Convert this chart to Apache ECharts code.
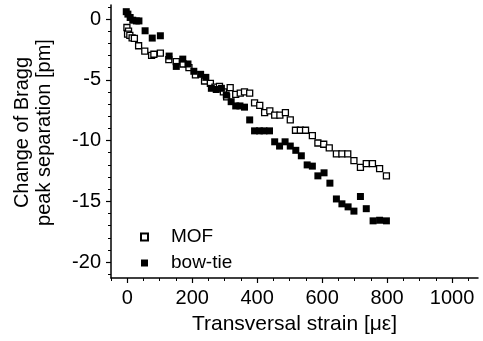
<!DOCTYPE html>
<html>
<head>
<meta charset="utf-8">
<script src="https://cdn.jsdelivr.net/npm/echarts@6/dist/echarts.min.js"></script>
<style>
  html, body { margin: 0; padding: 0; background: #fff; }
  #chart { width: 483px; height: 341px; }
</style>
</head>
<body>
<div id="chart"></div>
<script>
// strain in microstrain, shift in pm
const mofStrain = [-1, 4, 1, 8, 15, 22, 35, 54, 75, 82, 102, 128, 151, 172, 190, 210, 238, 256, 270, 284,
  296, 306, 317, 334, 348, 361, 377, 392, 408, 423, 439, 454, 470, 487, 502, 518, 533, 549, 570, 587,
  605, 622, 644, 661, 679, 698, 718, 736, 755, 777, 798];
const mofShift = [-0.7, -1.0, -1.25, -1.35, -1.55, -1.6, -2.2, -2.65, -3.0, -2.9, -2.8, -3.35, -3.5, -3.7, -4.0, -4.6, -5.1, -5.3, -5.6, -5.55,
  -6.0, -6.4, -5.65, -6.2, -6.1, -6.0, -6.1, -6.9, -7.1, -7.7, -7.55, -7.9, -7.9, -7.7, -8.3, -9.15, -9.15, -9.15, -9.6, -10.2,
  -10.3, -10.6, -11.1, -11.1, -11.1, -11.65, -12.2, -11.9, -11.9, -12.3, -12.9];

const bowStrain = [-3, 2, 9, 17, 28, 36, 55, 77, 102, 129, 151, 171, 187, 205, 226, 242, 259, 274, 290, 305,
  320, 334, 347, 361, 377, 392, 407, 421, 438, 454, 469, 486, 502, 519, 536, 554, 570, 587, 606, 624,
  644, 661, 680, 698, 718, 736, 757, 777, 798];
const bowShift = [0.6, 0.4, 0.12, -0.1, -0.16, -0.16, -0.97, -1.57, -1.38, -3.05, -3.9, -3.3, -3.7, -4.3, -4.55, -4.8, -5.7, -5.8, -5.7, -6.25,
  -6.8, -7.15, -7.15, -7.25, -8.3, -9.2, -9.2, -9.2, -9.2, -10.1, -10.45, -10.1, -10.45, -10.8, -11.25, -12.0, -12.1, -12.9, -12.65, -13.5,
  -14.8, -15.2, -15.45, -15.8, -14.6, -15.6, -16.6, -16.55, -16.6];

const xMajor = [0, 200, 400, 600, 800, 1000];
const xMinor = [-50, 0, 50, 100, 150, 200, 250, 300, 350, 400, 450, 500, 550, 600, 650, 700, 750, 800, 850, 900, 950, 1000, 1050];
const yMajor = [-20, -15, -10, -5, 0];
const yMinor = [-21, -20, -19, -18, -17, -16, -15, -14, -13, -12, -11, -10, -9, -8, -7, -6, -5, -4, -3, -2, -1, 0, 1];

const X_MIN = -50, X_MAX = 1080;
const Y_MIN = -21.3, Y_MAX = 1.15;
const FONT = "'Liberation Sans', Arial, sans-serif";

const pair = (xs, ys) => xs.map((x, i) => [x, ys[i]]);

const chart = echarts.init(document.getElementById("chart"), null, { renderer: "canvas" });

const mainLine = { show: true, onZero: false, lineStyle: { color: "#000", width: 1.5 } };
const hiddenLine = { show: false, onZero: false };

chart.setOption({
  animation: false,
  textStyle: { fontFamily: FONT },
  grid: { left: 111, right: 5, top: 5, bottom: 63 },
  legend: {
    orient: "vertical",
    left: 135,
    top: 222,
    itemWidth: 7,
    itemHeight: 7,
    itemGap: 6,
    textStyle: { fontSize: 19, lineHeight: 20, color: "#000", fontFamily: FONT, padding: [0, 0, 0, 18] },
    data: ["MOF", "bow-tie"]
  },
  xAxis: [
    {
      type: "value", min: X_MIN, max: X_MAX,
      axisLine: mainLine,
      axisTick: { show: true, inside: false, length: 5, customValues: xMajor, lineStyle: { color: "#000", width: 1.2 } },
      axisLabel: { customValues: xMajor, fontSize: 20, color: "#000", margin: 10, fontFamily: FONT, formatter: (v) => String(v) },
      splitLine: { show: false },
      name: "Transversal strain [με]",
      nameLocation: "middle",
      nameGap: 36,
      nameTextStyle: { fontSize: 21, color: "#000", fontFamily: FONT }
    },
    {
      type: "value", min: X_MIN, max: X_MAX, position: "bottom",
      axisLine: hiddenLine,
      axisTick: { show: true, inside: false, length: 3, customValues: xMinor, lineStyle: { color: "#000", width: 1 } },
      axisLabel: { show: false },
      splitLine: { show: false }
    }
  ],
  yAxis: [
    {
      type: "value", min: Y_MIN, max: Y_MAX,
      axisLine: mainLine,
      axisTick: { show: true, inside: false, length: 5, customValues: yMajor, lineStyle: { color: "#000", width: 1.2 } },
      axisLabel: { customValues: yMajor, fontSize: 20, color: "#000", margin: 10, fontFamily: FONT },
      splitLine: { show: false },
      name: "Change of Bragg\npeak separation [pm]",
      nameLocation: "middle",
      nameGap: 56,
      nameTextStyle: { fontSize: 20, color: "#000", lineHeight: 22, fontFamily: FONT, padding: [0, 0, 0, 18] }
    },
    {
      type: "value", min: Y_MIN, max: Y_MAX, position: "left",
      axisLine: hiddenLine,
      axisTick: { show: true, inside: false, length: 3, customValues: yMinor, lineStyle: { color: "#000", width: 1 } },
      axisLabel: { show: false },
      splitLine: { show: false }
    }
  ],
  series: [
    {
      name: "MOF",
      type: "scatter",
      symbol: "rect",
      symbolSize: 6,
      itemStyle: { color: "#fff", borderColor: "#000", borderWidth: 1.3, opacity: 1 },
      data: pair(mofStrain, mofShift)
    },
    {
      name: "bow-tie",
      type: "scatter",
      symbol: "rect",
      symbolSize: 7,
      itemStyle: { color: "#000", opacity: 1 },
      data: pair(bowStrain, bowShift)
    }
  ]
});
</script>
</body>
</html>
